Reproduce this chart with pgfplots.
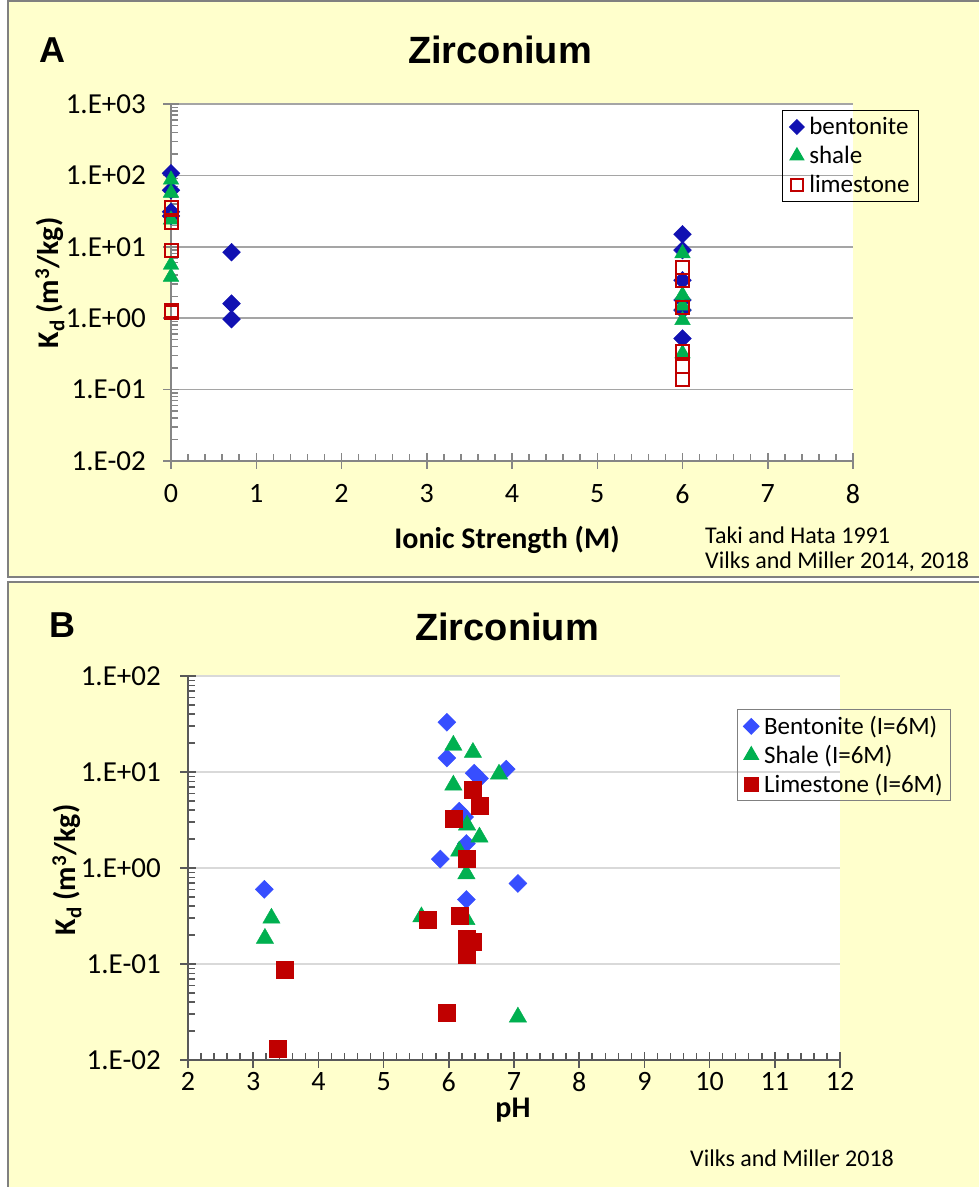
\documentclass[border=0pt]{standalone}
\usepackage{fontspec}
\setmainfont{Carlito}
\newfontfamily\arial{Liberation Sans}
\usepackage{pgfplots}
\pgfplotsset{compat=1.18}
\definecolor{bgyellow}{RGB}{255,255,204}
\definecolor{boxgray}{RGB}{128,128,128}
\definecolor{bentA}{RGB}{17,17,178}
\definecolor{bentB}{RGB}{55,78,255}
\definecolor{shalec}{RGB}{0,176,80}
\definecolor{limec}{RGB}{192,0,0}
\definecolor{axA}{RGB}{134,134,134}
\definecolor{axB}{RGB}{89,89,89}
\definecolor{gridA}{RGB}{165,165,165}
\definecolor{gridB}{RGB}{217,217,217}
\begin{document}
\begin{tikzpicture}
\useasboundingbox (0pt,0pt) rectangle (979pt,-1187pt);
\fill[bgyellow] (8pt,-1pt) rectangle (990pt,-577pt);
\draw[boxgray, line width=2pt] (8pt,-1pt) rectangle (990pt,-577pt);
\fill[bgyellow] (8pt,-582pt) rectangle (990pt,-1195pt);
\draw[boxgray, line width=2pt] (8pt,-582pt) rectangle (990pt,-1195pt);

% ---------------- Panel A ----------------
\begin{axis}[
  at={(171pt,-461pt)}, anchor=south west, scale only axis,
  width=682pt, height=357pt, clip=false,
  axis background/.style={fill=white},
  xmin=0, xmax=8, ymode=log, ymin=0.01, ymax=1000,
  axis x line*=bottom, axis y line*=left,
  axis line style={draw=axA, line width=1.5pt},
  xtick={0,1,2,3,4,5,6,7,8}, xticklabels={0,1,2,3,4,5,6,7,8},
  minor x tick num=4,
  ytick={0.01,0.1,1,10,100,1000},
  yticklabels={1.E-02,1.E-01,1.E+00,1.E+01,1.E+02,1.E+03},
  minor ytick={0.02,0.03,0.04,0.05,0.06,0.07,0.08,0.09,0.2,0.3,0.4,0.5,0.6,0.7,0.8,0.9,2,3,4,5,6,7,8,9,20,30,40,50,60,70,80,90,200,300,400,500,600,700,800,900},
  ymajorgrids, grid style={draw=gridA, line width=1.5pt},
  tick style={draw=axA, line width=1.5pt},
  tick align=inside, major tick length=8pt, minor tick length=7pt,
  extra x ticks={0,1,2,3,4,5,6,7,8}, extra x tick labels={},
  extra y ticks={0.01,0.1,1,10,100,1000}, extra y tick labels={},
  extra tick style={tick align=outside, major tick length=8pt, grid=none},
  yticklabel style={font=\fontsize{29}{29}\selectfont, inner sep=0pt, xshift=-25pt},
  xticklabel style={font=\fontsize{28}{28}\selectfont, inner sep=0pt, anchor=north, yshift=-23pt},
  legend style={at={(0.896,0.983)}, anchor=north west, draw=black, line width=1pt,
     fill=none, font=\fontsize{25}{28}\selectfont, inner xsep=7pt, inner ysep=5pt,
     row sep=6pt, column sep=3pt},
  legend cell align=left,
]
\addplot[only marks, mark=square*, mark size=6.3pt, mark options={rotate=45, fill=bentA, draw=bentA},
  legend image post style={mark size=5.2pt}]
 coordinates {(0,107) (0,62) (0,31) (0,27) (0.71,8.4) (0.71,1.6) (0.71,0.97)
   (6,15) (6,9.0) (6,3.4) (6,1.8) (6,1.3) (6,0.52)};
\addlegendentry{bentonite}
\addplot[only marks, mark=triangle*, mark size=9pt, mark options={fill=shalec, draw=shalec},
  legend image post style={mark size=8pt}]
 coordinates {(0,87) (0,57) (0,24) (0,5.6) (0,3.8) (6,8.1) (6,2.1) (6,1.5) (6,0.94) (6,0.32)};
\addlegendentry{shale}
\addplot[only marks, mark=square, mark size=6.5pt, mark options={draw=limec, fill=none, line width=2pt},
  legend image post style={mark size=6pt}]
 coordinates {(0,35) (0,22) (0,9.0) (0,1.3) (0,1.2) (6,5.2) (6,3.4) (6,1.4) (6,0.34) (6,0.21) (6,0.14)};
\addlegendentry{limestone}
\end{axis}

\node[font=\arial\bfseries\fontsize{36}{38}\selectfont] at (52pt,-50pt) {A};
\node[font=\arial\bfseries\fontsize{38}{40}\selectfont] at (500pt,-50pt) {Zirconium};
\node[font=\bfseries\fontsize{30}{32}\selectfont] at (507pt,-540pt) {Ionic Strength (M)};
\node[font=\bfseries\fontsize{30}{32}\selectfont, rotate=90] at (50pt,-283pt) {K\textsubscript{d} (m\textsuperscript{3}/kg)};
\node[font=\fontsize{24}{26}\selectfont, anchor=west, inner sep=0pt] at (705pt,-535pt) {Taki and Hata 1991};
\node[font=\fontsize{24}{26}\selectfont, anchor=west, inner sep=0pt] at (705pt,-562pt) {Vilks and Miller 2014, 2018};

% ---------------- Panel B ----------------
\begin{axis}[
  at={(188pt,-1060pt)}, anchor=south west, scale only axis,
  width=652pt, height=384pt, clip=false,
  axis background/.style={fill=white},
  xmin=2, xmax=12, ymode=log, ymin=0.01, ymax=100,
  axis x line*=bottom, axis y line*=left,
  axis line style={draw=axB, line width=1.5pt},
  xtick={2,3,4,5,6,7,8,9,10,11,12}, xticklabels={2,3,4,5,6,7,8,9,10,11,12},
  minor x tick num=4,
  ytick={0.01,0.1,1,10,100},
  yticklabels={1.E-02,1.E-01,1.E+00,1.E+01,1.E+02},
  minor ytick={0.02,0.03,0.04,0.05,0.06,0.07,0.08,0.09,0.2,0.3,0.4,0.5,0.6,0.7,0.8,0.9,2,3,4,5,6,7,8,9,20,30,40,50,60,70,80,90},
  ymajorgrids, grid style={draw=gridB, line width=1.5pt},
  tick style={draw=axB, line width=1.5pt},
  tick align=inside, major tick length=8pt, minor tick length=7pt,
  extra x ticks={2,3,4,5,6,7,8,9,10,11,12}, extra x tick labels={},
  extra y ticks={0.01,0.1,1,10,100}, extra y tick labels={},
  extra tick style={tick align=outside, major tick length=8pt, grid=none},
  yticklabel style={font=\fontsize{29}{29}\selectfont, inner sep=0pt, xshift=-27pt},
  xticklabel style={font=\fontsize{28}{28}\selectfont, inner sep=0pt, anchor=north, yshift=-12pt},
  legend style={at={(0.842,0.914)}, anchor=north west, draw=boxgray, line width=1pt,
     fill=none, font=\fontsize{25}{28}\selectfont, inner xsep=6pt, inner ysep=5pt,
     row sep=5pt, column sep=3pt},
  legend cell align=left,
]
\addplot[only marks, mark=square*, mark size=6.4pt, mark options={rotate=45, fill=bentB, draw=bentB},
  legend image post style={mark size=5.5pt}]
 coordinates {(3.17,0.60) (5.97,33) (5.97,14) (6.39,9.7) (6.47,8.6) (6.88,10.7) (6.16,3.9)
   (6.24,3.4) (6.27,1.8) (5.87,1.24) (7.06,0.69) (6.27,0.47)};
\addlegendentry{Bentonite (I=6M)}
\addplot[only marks, mark=triangle*, mark size=10pt, mark options={fill=shalec, draw=shalec},
  legend image post style={mark size=8.5pt}]
 coordinates {(3.28,0.30) (3.18,0.185) (5.58,0.31) (6.07,19) (6.37,16) (6.77,9.5) (6.07,7.3)
   (6.28,2.8) (6.47,2.1) (6.16,1.5) (6.27,0.87) (6.27,0.29) (7.06,0.028)};
\addlegendentry{Shale (I=6M)}
\addplot[only marks, mark=square*, mark size=8.5pt, mark options={fill=limec, draw=limec},
  legend image post style={mark size=7pt}]
 coordinates {(3.48,0.087) (3.38,0.0132) (5.68,0.29) (6.16,0.32) (6.27,0.185) (6.37,0.17)
   (6.27,0.124) (5.97,0.031) (6.37,6.6) (6.47,4.5) (6.07,3.3) (6.27,1.24)};
\addlegendentry{Limestone (I=6M)}
\end{axis}

\node[font=\arial\bfseries\fontsize{36}{38}\selectfont] at (62pt,-625pt) {B};
\node[font=\arial\bfseries\fontsize{38}{40}\selectfont] at (507pt,-627pt) {Zirconium};
\node[font=\bfseries\fontsize{30}{32}\selectfont] at (513pt,-1110pt) {pH};
\node[font=\bfseries\fontsize{30}{32}\selectfont, rotate=90] at (67pt,-870pt) {K\textsubscript{d} (m\textsuperscript{3}/kg)};
\node[font=\fontsize{24}{26}\selectfont, anchor=west, inner sep=0pt] at (690pt,-1158pt) {Vilks and Miller 2018};
\end{tikzpicture}
\end{document}
